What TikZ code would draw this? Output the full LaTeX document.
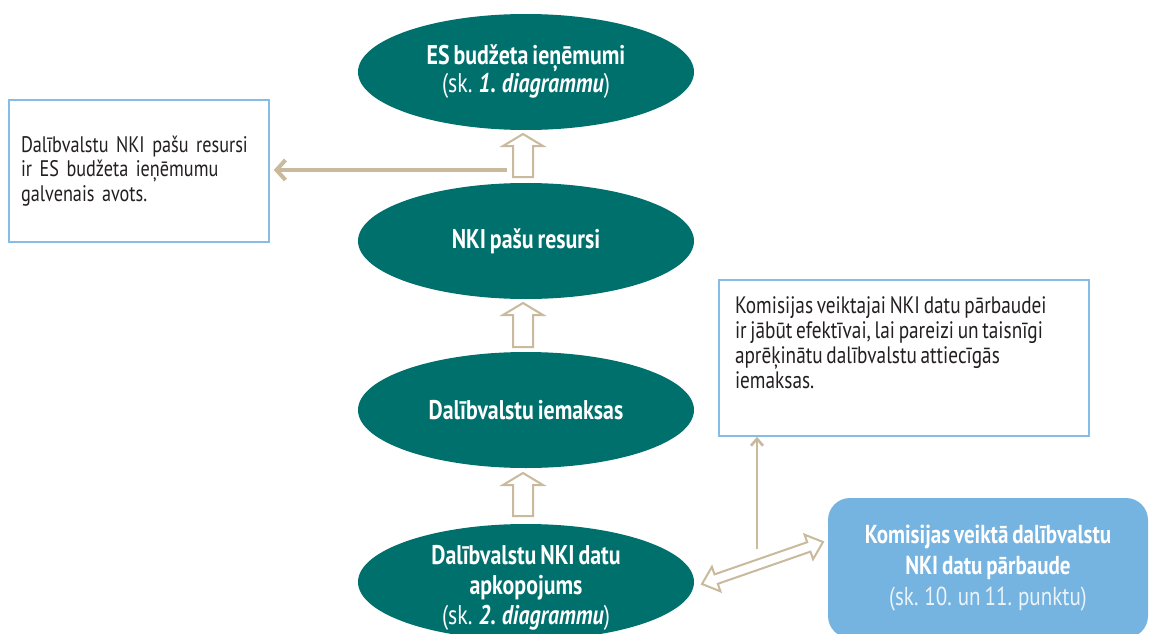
\documentclass[tikz,border=0pt]{standalone}
\usepackage{fontspec}
\setmainfont{PT Sans}[FakeStretch=0.81,WordSpace=0.72]
\usetikzlibrary{shapes.geometric,arrows.meta,calc}
\definecolor{teal}{RGB}{0,112,109}
\definecolor{tanc}{RGB}{201,185,157}
\definecolor{bordblue}{RGB}{133,189,230}
\definecolor{fillblue}{RGB}{117,179,224}
\definecolor{txt}{RGB}{35,31,32}
\tikzset{
  ell/.style={ellipse, fill=teal, minimum width=336pt, minimum height=116pt, inner sep=0pt,
    text=white, align=center, font=\fontsize{27}{28}\selectfont\bfseries},
  notebox/.style={draw=bordblue, line width=1.5pt, fill=white, text=txt, align=left},
  hollow/.style={draw=tanc, line width=2pt, fill=white, line join=miter},
  tanline/.style={draw=tanc, line width=4pt},
  thintan/.style={draw=tanc, line width=2.6pt},
}
\newcommand\hollowup[2]{%
  \draw[hollow] ($(#1)+(-10,0)$) -- ($(#2)+(-10,12)$) -- ($(#2)+(-20,12)$) -- (#2)
    -- ($(#2)+(20,12)$) -- ($(#2)+(10,12)$) -- ($(#1)+(10,0)$) -- cycle;}
\begin{document}
\begin{tikzpicture}[x=1pt,y=-1pt]
\useasboundingbox (0,0) rectangle (1149,634);
% ellipses
\node[ell] (e1) at (526,72) {ES budžeta ieņēmumi\\{\mdseries(sk. }\textbf{\textit{1. diagrammu}}{\mdseries)}};
\node[ell] (e2) at (526,241) {NKI pašu resursi};
\node[ell] (e3) at (526,410) {Dalībvalstu iemaksas};
\node[ell] (e4) at (526,582) {};
\node[align=center, text=white, font=\fontsize{27}{30}\selectfont\bfseries] (e4t) at (526,588)
  {Dalībvalstu NKI datu\\apkopojums\\{\mdseries(sk. }\textbf{\textit{2. diagrammu}}{\mdseries)}};
% hollow up arrows
\coordinate (a1t) at (523,134); \coordinate (a1b) at (523,177);
\coordinate (a2t) at (523,303); \coordinate (a2b) at (523,347);
\coordinate (a3t) at (523,473); \coordinate (a3b) at (523,516);
\hollowup{a1b}{a1t}
\hollowup{a2b}{a2t}
\hollowup{a3b}{a3t}
% left note
\node[notebox, font=\fontsize{22.5}{24.3}\selectfont, minimum width=260pt, minimum height=142pt, text width=236pt, inner xsep=12pt] (lbox) at (139,171)
  {Dalībvalstu NKI pašu resursi\\ir ES budžeta ieņēmumu\\galvenais avots.};
\coordinate (lstart) at (507,170);
\draw[tanline, -{Straight Barb[length=9pt,width=20pt,line width=4pt]}, shorten >=4pt] (lstart) -- (lbox.east |- lstart);
% right note
\node[notebox, font=\fontsize{23.8}{25}\selectfont, minimum width=370pt, minimum height=156pt, inner xsep=16pt, inner ysep=13pt] (rbox) at (904,358)
  {\parbox[c][130pt][t]{338pt}{\raggedright\vspace*{4pt}Komisijas veiktajai NKI datu pārbaudei\\ir jābūt efektīvai, lai pareizi un taisnīgi\\aprēķinātu dalībvalstu attiecīgās\\iemaksas.}};
% blue box
\node[rounded corners=22pt, fill=fillblue, minimum width=320pt, minimum height=140pt, align=center,
  text=white, font=\fontsize{26}{31}\selectfont\bfseries] (bbox) at (988,568)
  {Komisijas veiktā dalībvalstu\\NKI datu pārbaude\\{\mdseries\color{white!85!fillblue}(sk. 10. un 11. punktu)}};
% vertical connector
\coordinate (vb) at (757,549);
\draw[thintan, -{Straight Barb[length=7pt,width=12pt,line width=2.6pt]}] (vb) -- (rbox.south -| vb);
% double hollow arrow
\coordinate (da) at (702,584); \coordinate (db) at (823,542);
\draw[hollow] (da)
  -- ($(da)!15pt!(db)!13pt!90:(db)$)
  -- ($(da)!15pt!(db)!5pt!90:(db)$)
  -- ($(db)!15pt!(da)!5pt!-90:(da)$)
  -- ($(db)!15pt!(da)!13pt!-90:(da)$)
  -- (db)
  -- ($(db)!15pt!(da)!13pt!90:(da)$)
  -- ($(db)!15pt!(da)!5pt!90:(da)$)
  -- ($(da)!15pt!(db)!5pt!-90:(db)$)
  -- ($(da)!15pt!(db)!13pt!-90:(db)$)
  -- cycle;
\end{tikzpicture}
\end{document}
